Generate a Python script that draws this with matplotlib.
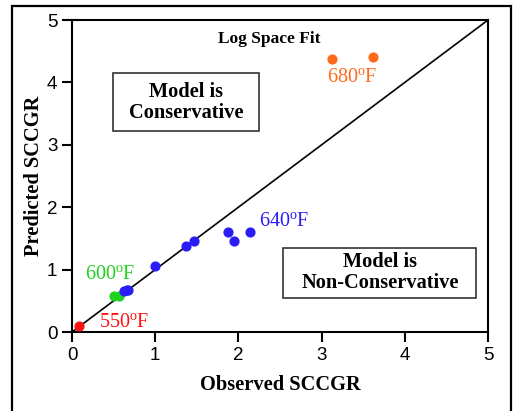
import matplotlib
matplotlib.use('Agg')
import matplotlib.pyplot as plt
from matplotlib.patches import Rectangle

# observed vs predicted SCCGR by temperature
x_550 = [0.08]
y_550 = [0.10]
x_600 = [0.50, 0.56]
y_600 = [0.58, 0.57]
x_640 = [0.62, 0.66, 0.67, 1.00, 1.37, 1.47, 1.87, 1.95, 2.14]
y_640 = [0.66, 0.68, 0.67, 1.05, 1.38, 1.46, 1.60, 1.46, 1.60]
x_680 = [3.12, 3.62]
y_680 = [4.37, 4.40]
fit_x = [0, 5]
fit_y = [0, 5]
ticks = [0, 1, 2, 3, 4, 5]

serif = 'Liberation Serif'
plt.rcParams['mathtext.fontset'] = 'custom'
plt.rcParams['mathtext.rm'] = serif

fig = plt.figure(figsize=(5.13, 4.11), dpi=100)
ax = fig.add_axes([0.1404, 0.1922, 0.8109, 0.7591])

# outer frame around the whole figure
fig.patches.append(Rectangle((12 / 513, -0.05), 499 / 513, 1.05 - 6 / 411,
                             transform=fig.transFigure, fill=False,
                             lw=1.6, ec='black', zorder=0))

ax.plot(fit_x, fit_y, '-', color='black', lw=1.2, zorder=2)

ax.scatter(x_550, y_550, s=40, color='#ff1010', zorder=3)
ax.scatter(x_600, y_600, s=40, color='#1fd21f', zorder=3)
ax.scatter(x_640, y_640, s=40, color='#2a1cf5', zorder=3)
ax.scatter(x_680, y_680, s=40, color='#ff6a1a', zorder=3)

lab = dict(fontfamily=serif, fontsize=14.5, va='center')
ax.text(3.37, 4.07, '680$^{\\rm o}$F', color='#ff6a1a', ha='center', **lab)
ax.text(2.25, 1.76, '640$^{\\rm o}$F', color='#2a1cf5', ha='left', **lab)
ax.text(0.15, 0.91, '600$^{\\rm o}$F', color='#1fd21f', ha='left', **lab)
ax.text(0.33, 0.14, '550$^{\\rm o}$F', color='#ff1010', ha='left', **lab)

ax.text(2.37, 4.69, 'Log Space Fit', fontfamily=serif, fontweight='bold',
        fontsize=12.5, ha='center', va='center')

# annotation boxes
ax.add_patch(Rectangle((0.49, 3.22), 1.76, 0.93, fill=True, fc='white',
                       ec='#333333', lw=1.2, zorder=4))
ax.add_patch(Rectangle((2.54, 0.545), 2.32, 0.805, fill=True, fc='white',
                       ec='#333333', lw=1.2, zorder=4))
box_txt = dict(fontfamily=serif, fontweight='bold', fontsize=14.7,
               ha='center', va='center', linespacing=1.1, zorder=5)
ax.text(1.37, 3.68, 'Model is\nConservative', **box_txt)
ax.text(3.70, 0.95, 'Model is\nNon-Conservative', **box_txt)

ax.set_xlim(0, 5)
ax.set_ylim(0, 5)
ax.set_xticks(ticks)
ax.set_yticks(ticks)
ax.tick_params(direction='out', length=7, width=1.5, labelsize=13.5,
               top=False, right=False)
for lbl in ax.get_xticklabels() + ax.get_yticklabels():
    lbl.set_fontfamily('Liberation Sans')
for sp in ax.spines.values():
    sp.set_linewidth(1.5)

ax.set_xlabel('Observed SCCGR', fontfamily=serif, fontweight='bold',
              fontsize=14.7, labelpad=8)
ax.set_ylabel('Predicted SCCGR', fontfamily=serif, fontweight='bold',
              fontsize=14.7, labelpad=2)

fig.savefig('out.png', dpi=100)
